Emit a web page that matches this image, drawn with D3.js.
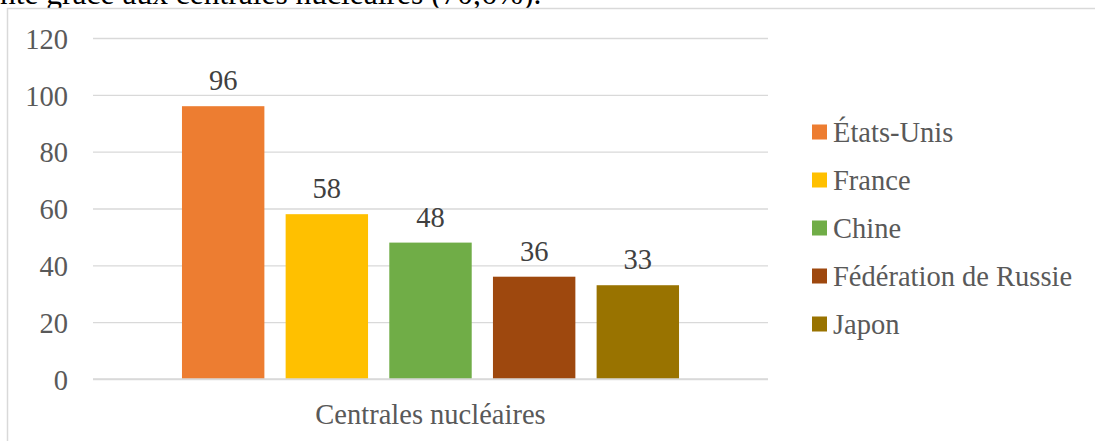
<!DOCTYPE html>
<html><head><meta charset="utf-8">
<script src="https://cdn.jsdelivr.net/npm/d3@7"></script>
<style>body{margin:0;background:#fff;overflow:hidden}svg{display:block}</style>
</head><body>
<script>
const categories = ["Centrales nucléaires"];
const seriesNames = ["États-Unis", "France", "Chine", "Fédération de Russie", "Japon"];
const seriesValues = [96, 58, 48, 36, 33];
const seriesColors = ["#ED7D31", "#FFC000", "#70AD47", "#9E480E", "#997300"];
const yTicks = [0, 20, 40, 60, 80, 100, 120];
const topText = "nte grâce aux centrales nucléaires (70,6%).";

const W = 1095, H = 441;
const svg = d3.select("body").append("svg").attr("width", W).attr("height", H);
const font = 'Liberation Serif, Tinos, Times New Roman, Times, Nimbus Roman, Noto Serif, DejaVu Serif, FreeSerif, serif';
const fs = 28.5;

// clipped caption text above the chart
svg.append("text").attr("x", 0).attr("y", 4).attr("font-family", font)
  .attr("font-size", 31.5).attr("fill", "#000").text(topText);

// chart frame
svg.append("rect").attr("x", 7.5).attr("y", 8.5).attr("width", 1200).attr("height", 600)
  .attr("fill", "#fff").attr("stroke", "#d9d9d9").attr("stroke-width", 1.5);

const plotL = 93, plotR = 768, plotT = 38, plotB = 379;
const y = d3.scaleLinear().domain([0, 120]).range([plotB, plotT]);
const x0 = d3.scaleBand().domain(categories).range([plotL, plotR]).paddingInner(0).paddingOuter(0.179);
const x1 = d3.scaleBand().domain(seriesNames).range([0, x0.bandwidth()]).paddingInner(0.205).paddingOuter(0);

const yAxis = d3.axisLeft(y).tickValues(yTicks).tickSize(-(plotR - plotL)).tickPadding(25);
const gy = svg.append("g").attr("transform", `translate(${plotL},0)`).call(yAxis);
gy.attr("font-family", font).attr("font-size", fs);
gy.select(".domain").remove();
gy.selectAll(".tick line").attr("stroke", "#d9d9d9").attr("stroke-width", 1.3);
gy.selectAll(".tick text").attr("fill", "#595959").attr("dy", "0.36em");

const g = svg.append("g");
categories.forEach(c => {
  seriesNames.forEach((s, i) => {
    const xx = x0(c) + x1(s);
    g.append("rect").attr("x", xx).attr("y", y(seriesValues[i]))
      .attr("width", x1.bandwidth()).attr("height", y(0) - y(seriesValues[i]))
      .attr("fill", seriesColors[i]);
    g.append("text").attr("x", xx + x1.bandwidth() / 2).attr("y", y(seriesValues[i]) - 16)
      .attr("text-anchor", "middle").attr("font-family", font).attr("font-size", fs)
      .attr("fill", "#404040").text(seriesValues[i]);
  });
});

// baseline
svg.append("line").attr("x1", plotL).attr("x2", plotR).attr("y1", y(0)).attr("y2", y(0))
  .attr("stroke", "#d9d9d9").attr("stroke-width", 1.5);

// category axis label
categories.forEach(c => {
  svg.append("text").attr("x", x0(c) + x0.bandwidth() / 2).attr("y", 424)
    .attr("text-anchor", "middle").attr("font-family", font).attr("font-size", fs)
    .attr("fill", "#595959").text(c);
});

// legend
const lg = svg.append("g");
seriesNames.forEach((s, i) => {
  const cy = 132 + i * 48;
  lg.append("rect").attr("x", 812).attr("y", cy - 7.5).attr("width", 15).attr("height", 15).attr("fill", seriesColors[i]);
  lg.append("text").attr("x", 833).attr("y", cy).attr("dy", "0.36em")
    .attr("font-family", font).attr("font-size", fs).attr("fill", "#595959").text(s);
});
</script>
</body></html>
